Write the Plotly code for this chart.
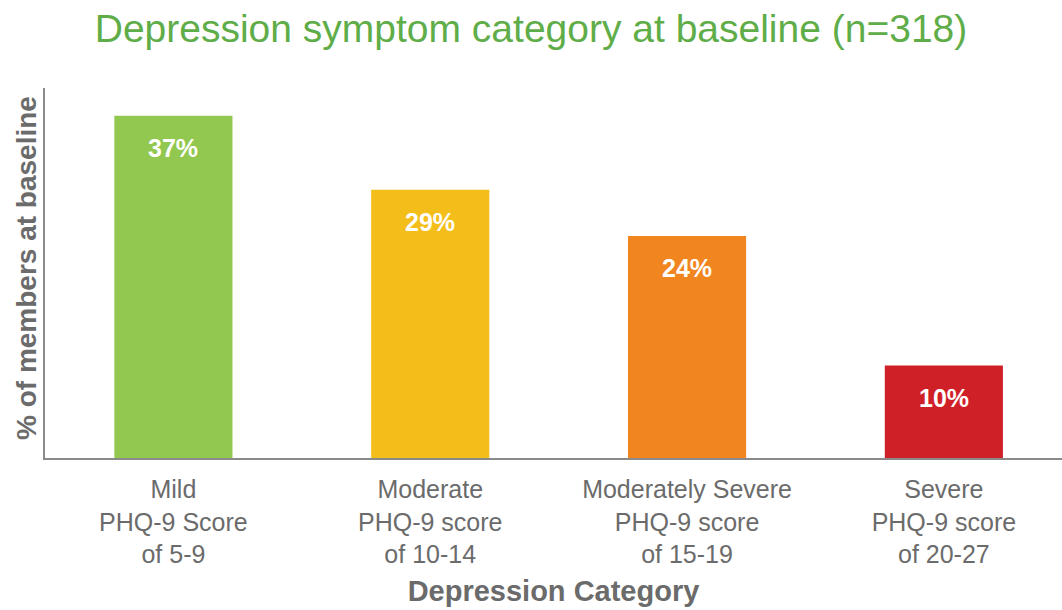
import plotly.graph_objects as go

categories = ["Mild<br>PHQ-9 Score<br>of 5-9",
              "Moderate<br>PHQ-9 score<br>of 10-14",
              "Moderately Severe<br>PHQ-9 score<br>of 15-19",
              "Severe<br>PHQ-9 score<br>of 20-27"]
values = [37, 29, 24, 10]
labels = ["37%", "29%", "24%", "10%"]
colors = ["#92C84F", "#F4BE1A", "#F18520", "#D02027"]
y_title = "% of members at baseline"
x_title = "Depression Category"
chart_title = "Depression symptom category at baseline (n=318)"

FONT = "Liberation Sans, Arial, sans-serif"
GRAY = "#6b6b6b"

fig = go.Figure(go.Bar(
    x=list(range(len(categories))), y=values,
    marker=dict(color=colors, line=dict(width=0)),
    width=0.46, hoverinfo="skip",
))

for i, (v, t) in enumerate(zip(values, labels)):
    fig.add_annotation(x=i, y=v, text="<b>%s</b>" % t, showarrow=False,
                       yshift=-32, font=dict(family=FONT, size=25, color="white"))

fig.add_annotation(xref="paper", yref="paper", x=0, y=0.5, xanchor="center",
                   yanchor="middle", xshift=-19, yshift=5, textangle=-90,
                   showarrow=False, text="<b>%s</b>" % y_title,
                   font=dict(family=FONT, size=28, color=GRAY))

fig.update_layout(
    width=1062, height=610,
    paper_bgcolor="white", plot_bgcolor="white",
    margin=dict(l=45, r=0, t=88, b=152),
    showlegend=False,
    title=dict(text=chart_title,
               x=0.5, xanchor="center", y=0.953, yanchor="middle",
               font=dict(family=FONT, size=39, color="#5FAD48")),
    xaxis=dict(range=[-0.5, 3.46], tickmode="array",
               tickvals=list(range(len(categories))), ticktext=categories,
               tickfont=dict(family=FONT, size=25, color=GRAY),
               ticklabelstandoff=8,
               showline=True, linecolor="#8a8a8a", linewidth=2,
               showgrid=False, ticks="", zeroline=False,
               title=dict(text="<b>%s</b>" % x_title, standoff=14,
                          font=dict(family=FONT, size=29, color=GRAY))),
    yaxis=dict(range=[0, 40], showticklabels=False, showgrid=False,
               showline=True, linecolor="#8a8a8a", linewidth=2,
               ticks="", zeroline=False),
)

fig.write_html("out.html", config={"displayModeBar": False},
               post_script="document.body.style.margin='0';")
